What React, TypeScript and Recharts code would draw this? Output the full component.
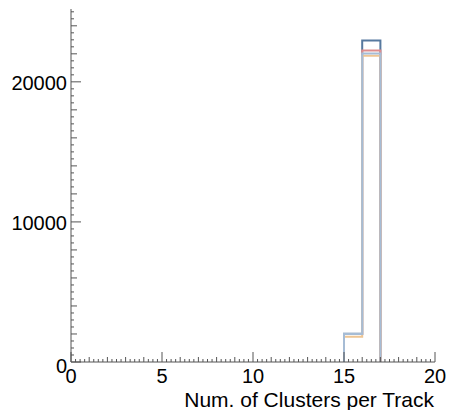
import React from 'react';
import { ComposedChart, Line, XAxis, YAxis, Label } from 'recharts';

// histogram bins (low edges) and the closing high edge
const binLow = [15, 16];
const binHigh = 17;

// counts per bin, one array per overlaid histogram
const darkBlue = [2010, 22950];
const red = [1990, 22240];
const orange = [1810, 21860];
const lightBlue = [2000, 22020];

const xMajor = [0, 5, 10, 15, 20];
const yMajor = [0, 10000, 20000];

const xTicks = Array.from({ length: 81 }, (_, i) => i * 0.25);
const yTicks = Array.from({ length: 51 }, (_, i) => i * 500);

const FONT = '"Liberation Sans", Arial, sans-serif';
const AXIS = '#555';

// outline rows: start at 0 on the first low edge, step through bins, drop back to 0
const data = [
  { x: binLow[0], a: 0, b: 0, c: 0, d: 0 },
  ...binLow.map((x, i) => ({ x, a: darkBlue[i], b: red[i], c: orange[i], d: lightBlue[i] })),
  { x: binHigh, a: 0, b: 0, c: 0, d: 0 },
];

function XTick(props: any) {
  const { x, y, payload } = props;
  const v = payload.value;
  const major = xMajor.includes(v);
  const len = major ? 10 : Number.isInteger(v) ? 5 : 3;
  return (
    <g>
      <line x1={x} x2={x} y1={y} y2={y - len} stroke={AXIS} strokeWidth={1} />
      {major && (
        <text x={x} y={y + 21} textAnchor="middle" fontSize={20} fontFamily={FONT} fill="#000">
          {v}
        </text>
      )}
    </g>
  );
}

function YTick(props: any) {
  const { x, y, payload } = props;
  const v = payload.value;
  const major = yMajor.includes(v);
  const len = major ? 10 : v % 2000 === 0 ? 6 : 3;
  return (
    <g>
      <line x1={x} x2={x + len} y1={y} y2={y} stroke={AXIS} strokeWidth={1} />
      {major && (
        <text x={x - 4} y={y} dy={v === 0 ? 11 : 8} textAnchor="end" fontSize={20} fontFamily={FONT} fill="#000">
          {v}
        </text>
      )}
    </g>
  );
}

export default function App() {
  return (
    <div style={{ position: 'absolute', left: 0, top: 0, width: 449, height: 410, background: '#fff' }}>
      <ComposedChart
        width={449}
        height={410}
        data={data}
        margin={{ top: 9, right: 14, bottom: 0, left: 0 }}
      >
        <XAxis
          dataKey="x"
          type="number"
          domain={[0, 20]}
          ticks={xTicks}
          interval={0}
          tickSize={0}
          tickMargin={0}
          tickLine={false}
          tick={<XTick />}
          axisLine={{ stroke: AXIS }}
          height={48}
        >
          <Label
            content={() => (
              <text x={434} y={407} textAnchor="end" fontSize={21} fontFamily={FONT} fill="#000">
                Num. of Clusters per Track
              </text>
            )}
          />
        </XAxis>
        <YAxis
          type="number"
          domain={[0, 25200]}
          ticks={yTicks}
          interval={0}
          tickSize={0}
          tickMargin={0}
          tickLine={false}
          tick={<YTick />}
          axisLine={{ stroke: AXIS }}
          width={71}
        />
        <Line type="stepAfter" dataKey="a" stroke="#56799f" strokeWidth={2} dot={false} isAnimationActive={false} />
        <Line type="stepAfter" dataKey="b" stroke="#dd8d8e" strokeWidth={2} dot={false} isAnimationActive={false} />
        <Line type="stepAfter" dataKey="c" stroke="#eec593" strokeWidth={2} dot={false} isAnimationActive={false} />
        <Line type="stepAfter" dataKey="d" stroke="#a6bcd5" strokeWidth={2} dot={false} isAnimationActive={false} />
      </ComposedChart>
    </div>
  );
}
